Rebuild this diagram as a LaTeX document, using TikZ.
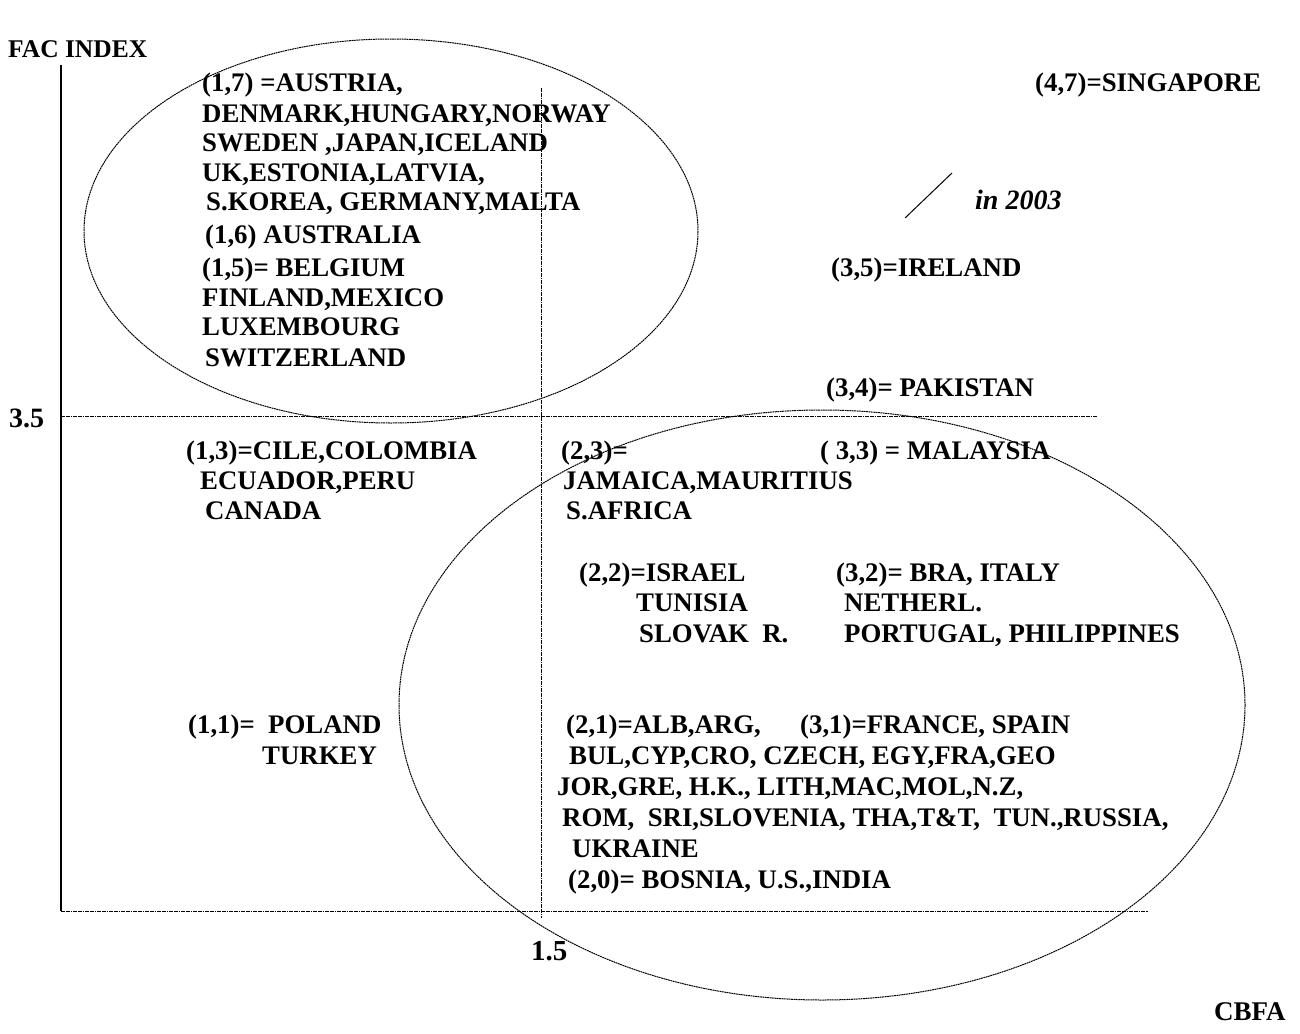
\documentclass[tikz,border=0pt]{standalone}
\usepackage{fontspec}
\setmainfont{Liberation Serif}
\begin{document}
\begin{tikzpicture}[x=1pt,y=-1pt,
  lbl/.style={anchor=base west,inner sep=0pt,font=\fontsize{26.8}{30}\selectfont\bfseries},
  fine/.style={line width=1pt,dash pattern=on 1.8pt off 0.6pt},
  axis/.style={line width=1.5pt}]
\useasboundingbox (0,0) rectangle (1300,1033);
% axes and guide lines
\coordinate (ytop) at (61,65);
\coordinate (orig) at (61,911);
\coordinate (xend) at (1148,911);
\coordinate (mL) at (61,416);
\coordinate (mR) at (1097,416);
\coordinate (vT) at (541,88);
\coordinate (vB) at (541,918);
\draw[axis] (ytop) -- (orig);
\draw[fine] (orig) -- (xend);
\draw[fine] (mL) -- (mR);
\draw[fine] (vT) -- (vB);
% ellipses
\draw[fine] (391,231) ellipse [x radius=307, y radius=192];
\draw[fine] (822,705) ellipse [x radius=423, y radius=295];
% axis labels
\node[lbl,font=\fontsize{25.5}{30}\selectfont\bfseries] (fac) at (8,57) {FAC INDEX};
\node[lbl,font=\fontsize{28}{30}\selectfont\bfseries] (y35) at (9,427) {3.5};
\node[lbl,font=\fontsize{29}{30}\selectfont\bfseries] (x15) at (531,960) {1.5};
\node[lbl,font=\fontsize{27}{30}\selectfont\bfseries] (cbfa) at (1214,1020) {CBFA};
% top-left group
\node[lbl] (a1) at (202,92) {(1,7) =AUSTRIA,};
\node[lbl] (a2) at (202,122) {DENMARK,HUNGARY,NORWAY};
\node[lbl] (a3) at (202,151) {SWEDEN ,JAPAN,ICELAND};
\node[lbl] (a4) at (202,181) {UK,ESTONIA,LATVIA,};
\node[lbl] (a5) at (206,210) {S.KOREA, GERMANY,MALTA};
\node[lbl] (a6) at (205,243) {(1,6) AUSTRALIA};
\node[lbl] (a7) at (202,276) {(1,5)= BELGIUM};
\node[lbl] (a8) at (202,306) {FINLAND,MEXICO};
\node[lbl] (a9) at (202,335) {LUXEMBOURG};
\node[lbl] (a10) at (205,366) {SWITZERLAND};
% top-right
\node[lbl] (sg) at (1035,92) {(4,7)=SINGAPORE};
\coordinate (s1) at (905,218);
\coordinate (s2) at (952,173);
\draw[line width=1pt] (s1) -- (s2);
\node[lbl,font=\fontsize{28}{30}\selectfont\bfseries\itshape] (yr) at (975,209) {in 2003};
\node[lbl] (ie) at (831,276) {(3,5)=IRELAND};
\node[lbl] (pk) at (826,396) {(3,4)= PAKISTAN};
% middle left
\node[lbl] (b1) at (186,459) {(1,3)=CILE,COLOMBIA};
\node[lbl] (b2) at (200,489) {ECUADOR,PERU};
\node[lbl] (b3) at (205,519) {CANADA};
% middle right
\node[lbl] (c1) at (561,459) {(2,3)=};
\node[lbl] (c2) at (563,489) {JAMAICA,MAURITIUS};
\node[lbl] (c3) at (566,519) {S.AFRICA};
\node[lbl] (my) at (820,459) {( 3,3) = MALAYSIA};
\node[lbl] (d1) at (579,581) {(2,2)=ISRAEL};
\node[lbl] (d2) at (636,611) {TUNISIA};
\node[lbl] (d3) at (639,642) {SLOVAK\ \ R.};
\node[lbl] (e1) at (836,581) {(3,2)= BRA, ITALY};
\node[lbl] (e2) at (844,611) {NETHERL.};
\node[lbl] (e3) at (844,642) {PORTUGAL, PHILIPPINES};
% bottom
\node[lbl] (f1) at (188,733) {(1,1)=\ \ POLAND};
\node[lbl] (f2) at (262,764) {TURKEY};
\node[lbl] (g1) at (566,733) {(2,1)=ALB,ARG,};
\node[lbl] (h1) at (800,733) {(3,1)=FRANCE, SPAIN};
\node[lbl] (g2) at (569,764) {BUL,CYP,CRO, CZECH, EGY,FRA,GEO};
\node[lbl] (g3) at (557,795) {JOR,GRE, H.K., LITH,MAC,MOL,N.Z,};
\node[lbl] (g4) at (562,826) {ROM,\ \ SRI,SLOVENIA, THA,T\&T,\ \ TUN.,RUSSIA,};
\node[lbl] (g5) at (572,857) {UKRAINE};
\node[lbl] (g6) at (568,888) {(2,0)= BOSNIA, U.S.,INDIA};
\end{tikzpicture}
\end{document}
